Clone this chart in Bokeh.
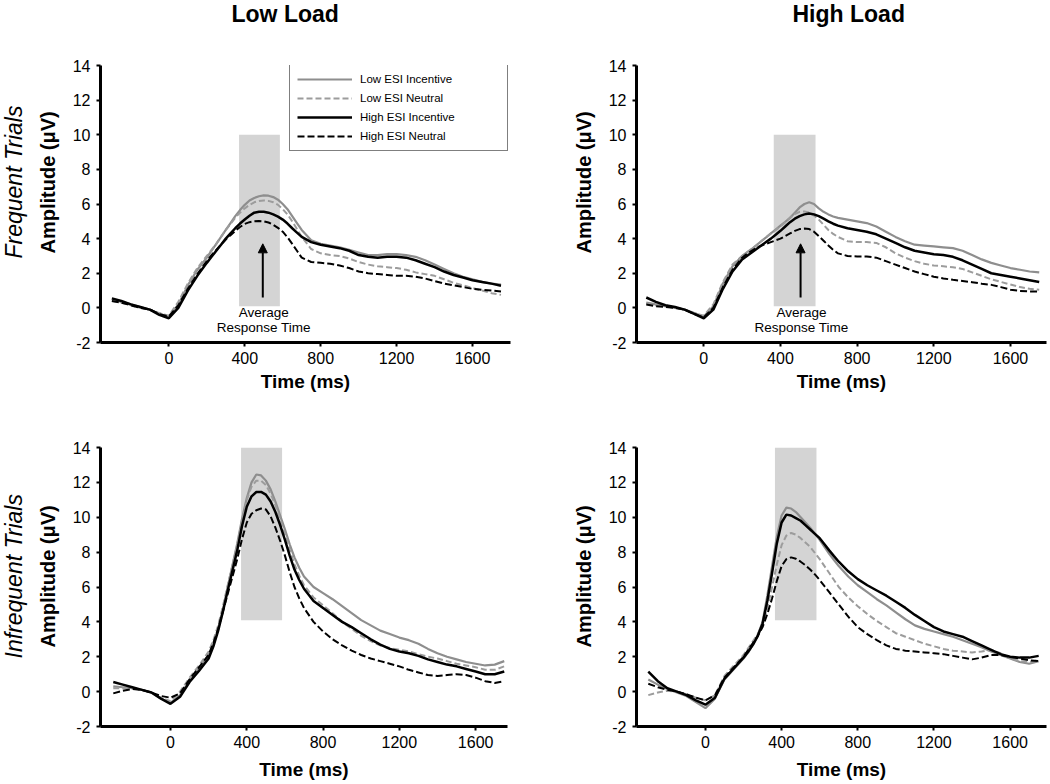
from bokeh.plotting import figure
from bokeh.models import Range1d, FixedTicker, Title, Legend, LegendItem, Arrow, NormalHead
from bokeh.layouts import column, row
from bokeh.embed import file_html
from bokeh.resources import INLINE
from bokeh.core.properties import value

FONT = "Liberation Sans"

# ---------------- data ----------------
time_ms = [-300, -250, -200, -150, -100, -50, 0, 50, 100, 150, 200,
           225, 250, 275, 300, 325, 350, 375, 400, 425, 450,
           475, 500, 525, 550, 575, 600, 625, 650, 675, 700,
           750, 800, 850, 900, 950, 1000, 1050, 1100, 1150, 1200,
           1250, 1300, 1350, 1400, 1450, 1500, 1550, 1600, 1650, 1700, 1750]

series_labels = ["Low ESI Incentive", "Low ESI Neutral", "High ESI Incentive", "High ESI Neutral"]

# Frequent trials, low load
freq_low_lowinc = [0.5, 0.35, 0.2, 0.05, -0.1, -0.35, -0.5, 0.2, 1.3, 2.2, 2.9,
                   3.3, 3.7, 4.1, 4.5, 4.9, 5.3, 5.65, 5.95, 6.2, 6.35,
                   6.45, 6.5, 6.48, 6.4, 6.25, 6.0, 5.7, 5.3, 4.9, 4.5,
                   3.9, 3.7, 3.6, 3.5, 3.35, 3.2, 3.05, 3.05, 3.1, 3.1,
                   3.05, 2.95, 2.75, 2.5, 2.25, 2.0, 1.8, 1.65, 1.5, 1.4, 1.35]
freq_low_lowneu = [0.4, 0.3, 0.15, 0.0, -0.1, -0.3, -0.45, 0.35, 1.4, 2.3, 3.0,
                   3.35, 3.7, 4.1, 4.5, 4.85, 5.2, 5.5, 5.75, 5.95, 6.1,
                   6.17, 6.2, 6.18, 6.1, 5.95, 5.7, 5.4, 5.0, 4.55, 4.1,
                   3.4, 3.15, 3.05, 3.0, 2.85, 2.65, 2.5, 2.4, 2.35, 2.3,
                   2.2, 2.05, 1.95, 1.85, 1.65, 1.45, 1.3, 1.15, 1.0, 0.85, 0.75]
freq_low_highinc = [0.55, 0.4, 0.2, 0.05, -0.1, -0.4, -0.6, 0.0, 1.0, 1.85, 2.6,
                    2.95, 3.3, 3.65, 4.0, 4.3, 4.6, 4.87, 5.1, 5.32, 5.5,
                    5.55, 5.55, 5.5, 5.4, 5.27, 5.1, 4.87, 4.6, 4.35, 4.1,
                    3.8, 3.65, 3.55, 3.45, 3.3, 3.05, 2.95, 2.9, 2.95, 2.95,
                    2.9, 2.75, 2.55, 2.35, 2.1, 1.9, 1.75, 1.6, 1.5, 1.4, 1.28]
freq_low_highneu = [0.4, 0.3, 0.15, 0.0, -0.1, -0.35, -0.5, 0.15, 1.1, 1.95, 2.7,
                    3.05, 3.35, 3.65, 3.95, 4.2, 4.45, 4.67, 4.85, 4.95, 5.0,
                    5.02, 5.0, 4.93, 4.8, 4.62, 4.4, 4.08, 3.7, 3.3, 2.9,
                    2.65, 2.6, 2.55, 2.45, 2.3, 2.1, 2.0, 1.95, 1.9, 1.85,
                    1.85, 1.8, 1.7, 1.55, 1.4, 1.3, 1.2, 1.1, 1.05, 1.0, 0.95]

# Frequent trials, high load
freq_high_lowinc = [0.3, 0.2, 0.1, 0.0, -0.1, -0.3, -0.5, 0.1, 1.4, 2.4, 3.0,
                    3.2, 3.4, 3.62, 3.85, 4.07, 4.3, 4.52, 4.75, 4.97, 5.2,
                    5.5, 5.8, 6.0, 6.1, 6.0, 5.75, 5.55, 5.4, 5.28, 5.2,
                    5.1, 5.0, 4.9, 4.7, 4.4, 4.1, 3.85, 3.65, 3.6, 3.55,
                    3.5, 3.45, 3.3, 3.05, 2.8, 2.6, 2.45, 2.3, 2.2, 2.1, 2.05]
freq_high_lowneu = [0.25, 0.15, 0.1, 0.0, -0.1, -0.3, -0.45, 0.2, 1.5, 2.5, 3.0,
                    3.2, 3.4, 3.62, 3.85, 4.07, 4.3, 4.5, 4.7, 4.95, 5.2,
                    5.42, 5.55, 5.57, 5.5, 5.33, 5.1, 4.8, 4.5, 4.27, 4.1,
                    3.85, 3.8, 3.8, 3.75, 3.5, 3.15, 2.9, 2.7, 2.55, 2.45,
                    2.4, 2.35, 2.25, 2.05, 1.85, 1.65, 1.5, 1.35, 1.2, 1.1, 1.05]
freq_high_highinc = [0.6, 0.35, 0.15, 0.05, -0.1, -0.35, -0.6, -0.1, 1.1, 2.1, 2.8,
                     3.0, 3.2, 3.4, 3.6, 3.8, 4.0, 4.22, 4.45, 4.7, 4.95,
                     5.15, 5.3, 5.4, 5.45, 5.4, 5.3, 5.15, 5.0, 4.86, 4.75,
                     4.6, 4.5, 4.4, 4.25, 4.0, 3.75, 3.5, 3.3, 3.2, 3.1,
                     3.05, 2.95, 2.75, 2.5, 2.25, 2.0, 1.9, 1.8, 1.7, 1.6, 1.5]
freq_high_highneu = [0.2, 0.1, 0.05, 0.0, -0.1, -0.35, -0.55, 0.0, 1.2, 2.2, 2.9,
                     3.12, 3.3, 3.47, 3.6, 3.7, 3.8, 3.9, 4.0, 4.15, 4.3,
                     4.45, 4.55, 4.58, 4.55, 4.4, 4.15, 3.88, 3.6, 3.35, 3.15,
                     3.0, 2.97, 2.97, 2.9, 2.7, 2.5, 2.3, 2.1, 1.95, 1.8,
                     1.7, 1.62, 1.55, 1.48, 1.4, 1.33, 1.2, 1.05, 0.98, 0.95, 0.95]

# Infrequent trials, low load
infreq_low_lowinc = [0.3, 0.25, 0.2, 0.1, -0.05, -0.4, -0.65, -0.2, 0.65, 1.35, 2.1,
                     2.7, 3.6, 4.7, 6.0, 7.25, 8.5, 9.9, 11.1, 12.0, 12.45,
                     12.4, 12.1, 11.6, 10.9, 10.1, 9.3, 8.45, 7.7, 7.1, 6.6,
                     6.0, 5.65, 5.3, 4.9, 4.5, 4.1, 3.8, 3.5, 3.3, 3.1,
                     2.95, 2.75, 2.45, 2.2, 2.0, 1.85, 1.7, 1.6, 1.5, 1.55, 1.75]
infreq_low_lowneu = [0.2, 0.2, 0.2, 0.1, -0.05, -0.35, -0.55, 0.0, 0.8, 1.5, 2.3,
                     2.95, 3.8, 4.9, 6.1, 7.25, 8.4, 9.8, 11.0, 11.75, 12.1,
                     12.1, 11.85, 11.35, 10.7, 9.9, 9.05, 8.15, 7.3, 6.65, 6.1,
                     5.4, 4.95, 4.5, 4.0, 3.6, 3.2, 2.9, 2.65, 2.5, 2.4,
                     2.3, 2.15, 2.0, 1.9, 1.75, 1.6, 1.5, 1.4, 1.25, 1.25, 1.45]
infreq_low_highinc = [0.55, 0.4, 0.25, 0.1, -0.05, -0.4, -0.7, -0.3, 0.55, 1.2, 1.9,
                      2.6, 3.5, 4.6, 5.8, 6.95, 8.1, 9.5, 10.6, 11.2, 11.45,
                      11.45, 11.3, 10.9, 10.3, 9.55, 8.7, 7.8, 7.0, 6.4, 5.9,
                      5.2, 4.8, 4.4, 4.0, 3.7, 3.35, 3.0, 2.7, 2.45, 2.3,
                      2.2, 2.05, 1.85, 1.7, 1.55, 1.45, 1.3, 1.15, 1.0, 1.0, 1.15]
infreq_low_highneu = [-0.1, 0.05, 0.15, 0.1, -0.05, -0.25, -0.35, -0.1, 0.7, 1.4, 2.1,
                      2.8, 3.6, 4.6, 5.6, 6.6, 7.6, 8.75, 9.7, 10.2, 10.4,
                      10.5, 10.45, 10.05, 9.4, 8.65, 7.8, 6.85, 6.0, 5.35, 4.8,
                      4.0, 3.45, 3.0, 2.65, 2.35, 2.1, 1.9, 1.75, 1.6, 1.45,
                      1.25, 1.1, 0.95, 0.9, 0.95, 1.0, 0.95, 0.8, 0.6, 0.5, 0.6]

# Infrequent trials, high load
infreq_high_lowinc = [0.7, 0.4, 0.15, -0.05, -0.25, -0.6, -0.95, -0.4, 0.7, 1.3, 1.9,
                      2.25, 2.7, 3.25, 4.0, 5.5, 7.2, 8.9, 10.1, 10.55, 10.5,
                      10.3, 10.0, 9.7, 9.4, 9.05, 8.7, 8.3, 7.9, 7.55, 7.2,
                      6.6, 6.1, 5.7, 5.3, 4.95, 4.55, 4.15, 3.8, 3.6, 3.45,
                      3.3, 3.15, 2.95, 2.75, 2.55, 2.3, 2.1, 1.9, 1.7, 1.6, 1.75]
infreq_high_lowneu = [-0.2, -0.05, 0.05, 0.0, -0.15, -0.35, -0.5, -0.2, 0.9, 1.5, 2.1,
                      2.5, 2.9, 3.3, 3.85, 4.8, 6.0, 7.3, 8.4, 8.95, 9.1,
                      9.0, 8.8, 8.55, 8.3, 7.95, 7.6, 7.2, 6.8, 6.4, 6.0,
                      5.4, 4.9, 4.45, 4.05, 3.7, 3.35, 3.15, 2.95, 2.75, 2.6,
                      2.45, 2.35, 2.3, 2.25, 2.3, 2.4, 2.2, 1.9, 1.75, 1.7, 1.8]
infreq_high_highinc = [1.15, 0.6, 0.2, 0.0, -0.2, -0.5, -0.75, -0.35, 0.75, 1.35, 1.95,
                       2.3, 2.7, 3.2, 3.9, 5.2, 6.8, 8.5, 9.7, 10.15, 10.1,
                       9.95, 9.8, 9.55, 9.3, 9.05, 8.8, 8.45, 8.1, 7.77, 7.45,
                       6.9, 6.45, 6.1, 5.8, 5.5, 5.15, 4.8, 4.4, 4.05, 3.7,
                       3.45, 3.3, 3.15, 2.9, 2.65, 2.4, 2.15, 2.0, 1.95, 1.95, 2.05]
infreq_high_highneu = [0.45, 0.25, 0.1, 0.0, -0.15, -0.35, -0.5, -0.2, 0.8, 1.4, 2.0,
                       2.4, 2.8, 3.2, 3.7, 4.45, 5.35, 6.35, 7.2, 7.6, 7.7,
                       7.62, 7.45, 7.25, 7.0, 6.72, 6.4, 6.05, 5.7, 5.35, 5.0,
                       4.3, 3.7, 3.3, 2.95, 2.65, 2.45, 2.35, 2.3, 2.25, 2.2,
                       2.15, 2.05, 1.95, 1.85, 1.95, 2.1, 2.1, 2.0, 1.9, 1.8, 1.75]

# response-time windows (ms) and their vertical extent (uV)
rt_window_lowload = [370, 585]
rt_window_highload = [365, 583]
shade_extent_frequent = [0.1, 10.0]
shade_extent_infrequent = [4.1, 14.0]

x_ticks = [0, 400, 800, 1200, 1600]
y_ticks = [-2, 0, 2, 4, 6, 8, 10, 12, 14]

col_titles = ["Low Load", "High Load"]
row_titles = ["Frequent Trials", "Infrequent Trials"]
rt_text = ["Average", "Response Time"]

# ---------------- styles ----------------
STYLES = [
    dict(color="#8e8e8e", dash="solid", width=2.2),
    dict(color="#9c9c9c", dash="6 3", width=2.0),
    dict(color="#000000", dash="solid", width=2.5),
    dict(color="#000000", dash="7 3", width=2.0),
]


def make_panel(width, height, borders, xr, series, window, extent, amp_offset, xlabel_standoff):
    left, right, top, bottom = borders
    p = figure(width=width, height=height, output_backend="svg", toolbar_location=None,
               x_range=Range1d(*xr), y_range=Range1d(-2, 14),
               min_border_left=left, min_border_right=right,
               min_border_top=top, min_border_bottom=bottom)
    p.xgrid.visible = False
    p.ygrid.visible = False
    p.outline_line_color = None
    p.background_fill_color = "white"
    p.border_fill_color = "white"

    p.quad(left=[window[0]], right=[window[1]], bottom=[extent[0]], top=[extent[1]],
           fill_color="#d4d4d4", line_color=None)

    renderers = []
    for ys, st in zip(series, STYLES):
        r = p.line(time_ms, ys, line_color=st["color"], line_width=st["width"],
                   line_dash=st["dash"])
        renderers.append(r)

    p.xaxis.ticker = FixedTicker(ticks=x_ticks)
    p.yaxis.ticker = FixedTicker(ticks=y_ticks)
    p.yaxis.major_label_overrides = {-2: "-2"}
    p.xaxis.axis_label = "Time (ms)"
    for ax in p.axis:
        ax.axis_line_width = 3
        ax.axis_line_color = "black"
        ax.major_tick_line_width = 2
        ax.major_tick_line_color = "black"
        ax.major_tick_out = 4
        ax.major_tick_in = 0
        ax.minor_tick_line_color = None
        ax.major_label_text_font = FONT
        ax.major_label_text_font_size = "16px"
        ax.major_label_text_color = "black"
        ax.axis_label_text_font = FONT
        ax.axis_label_text_font_style = "bold"
        ax.axis_label_text_font_size = "19px"
        ax.axis_label_text_color = "black"
    p.xaxis.major_label_standoff = 5
    p.xaxis.axis_label_standoff = xlabel_standoff
    p.yaxis.major_label_standoff = 6

    # y-axis label as a side title so it can sit where the original has it
    p.add_layout(Title(text="Amplitude (\u03bcV)", align="left", offset=amp_offset,
                       vertical_align="top", standoff=17,
                       text_font=FONT, text_font_size="20px", text_font_style="bold",
                       text_color="black"), "left")
    return p, renderers


def add_rt_annotation(p, x_arrow, x_text):
    p.add_layout(Arrow(end=NormalHead(size=9, fill_color="black", line_color="black", line_width=1),
                       x_start=x_arrow, y_start=0.6, x_end=x_arrow, y_end=3.7,
                       line_width=2, line_color="black"))
    p.text(x=[x_text, x_text], y=[-0.28, -1.15], text=rt_text,
           text_align="center", text_baseline="middle",
           text_font=value(FONT), text_font_size="13.5px", text_color="black")


def add_col_title(p, txt, offset):
    # spacer next to the frame, then the column heading at the top edge
    p.add_layout(Title(text=" ", text_font_size="1px", standoff=34), "above")
    p.add_layout(Title(text=txt, align="left", offset=offset, vertical_align="top", standoff=0,
                       text_font=FONT, text_font_size="23px", text_font_style="bold",
                       text_color="black"), "above")


def add_row_title(p, txt, offset):
    p.add_layout(Title(text=txt, align="left", offset=offset, vertical_align="top", standoff=0,
                       text_font=FONT, text_font_size="23px", text_font_style="italic",
                       text_color="black"), "left")


# top-left
p1, r1 = make_panel(540, 400, (98, 30, 65, 58), (-360, 1800),
                    [freq_low_lowinc, freq_low_lowneu, freq_low_highinc, freq_low_highneu],
                    rt_window_lowload, shade_extent_frequent, 89, 4)
add_rt_annotation(p1, 495, 500)
legend = Legend(items=[LegendItem(label=lab, renderers=[r]) for lab, r in zip(series_labels, r1)],
                location=(189, 191), orientation="vertical",
                border_line_color="black", border_line_width=1.5,
                background_fill_color="white", background_fill_alpha=1.0,
                padding=7, spacing=5, margin=0,
                glyph_width=55, glyph_height=14, label_height=14, label_width=140,
                label_standoff=8, label_text_font=FONT, label_text_font_size="11.5px",
                label_text_color="black")
p1.add_layout(legend)
add_col_title(p1, col_titles[0], 131)
add_row_title(p1, row_titles[0], 84)

# top-right
p2, r2 = make_panel(510, 400, (96, 4, 65, 58), (-351, 1788),
                    [freq_high_lowinc, freq_high_lowneu, freq_high_highinc, freq_high_highneu],
                    rt_window_highload, shade_extent_frequent, 89, 4)
add_rt_annotation(p2, 505, 510)
add_col_title(p2, col_titles[1], 156)

# bottom-left
p3, r3 = make_panel(540, 384, (98, 33, 47, 58), (-367, 1767),
                    [infreq_low_lowinc, infreq_low_lowneu, infreq_low_highinc, infreq_low_highneu],
                    rt_window_lowload, shade_extent_infrequent, 79, 8)
add_row_title(p3, row_titles[1], 68)

# bottom-right
p4, r4 = make_panel(510, 384, (96, 4, 47, 58), (-362, 1791),
                    [infreq_high_lowinc, infreq_high_lowneu, infreq_high_highinc, infreq_high_highneu],
                    rt_window_highload, shade_extent_infrequent, 79, 8)

layout = column(row(p1, p2), row(p3, p4))

open("out.html", "w").write(file_html(layout, INLINE))
